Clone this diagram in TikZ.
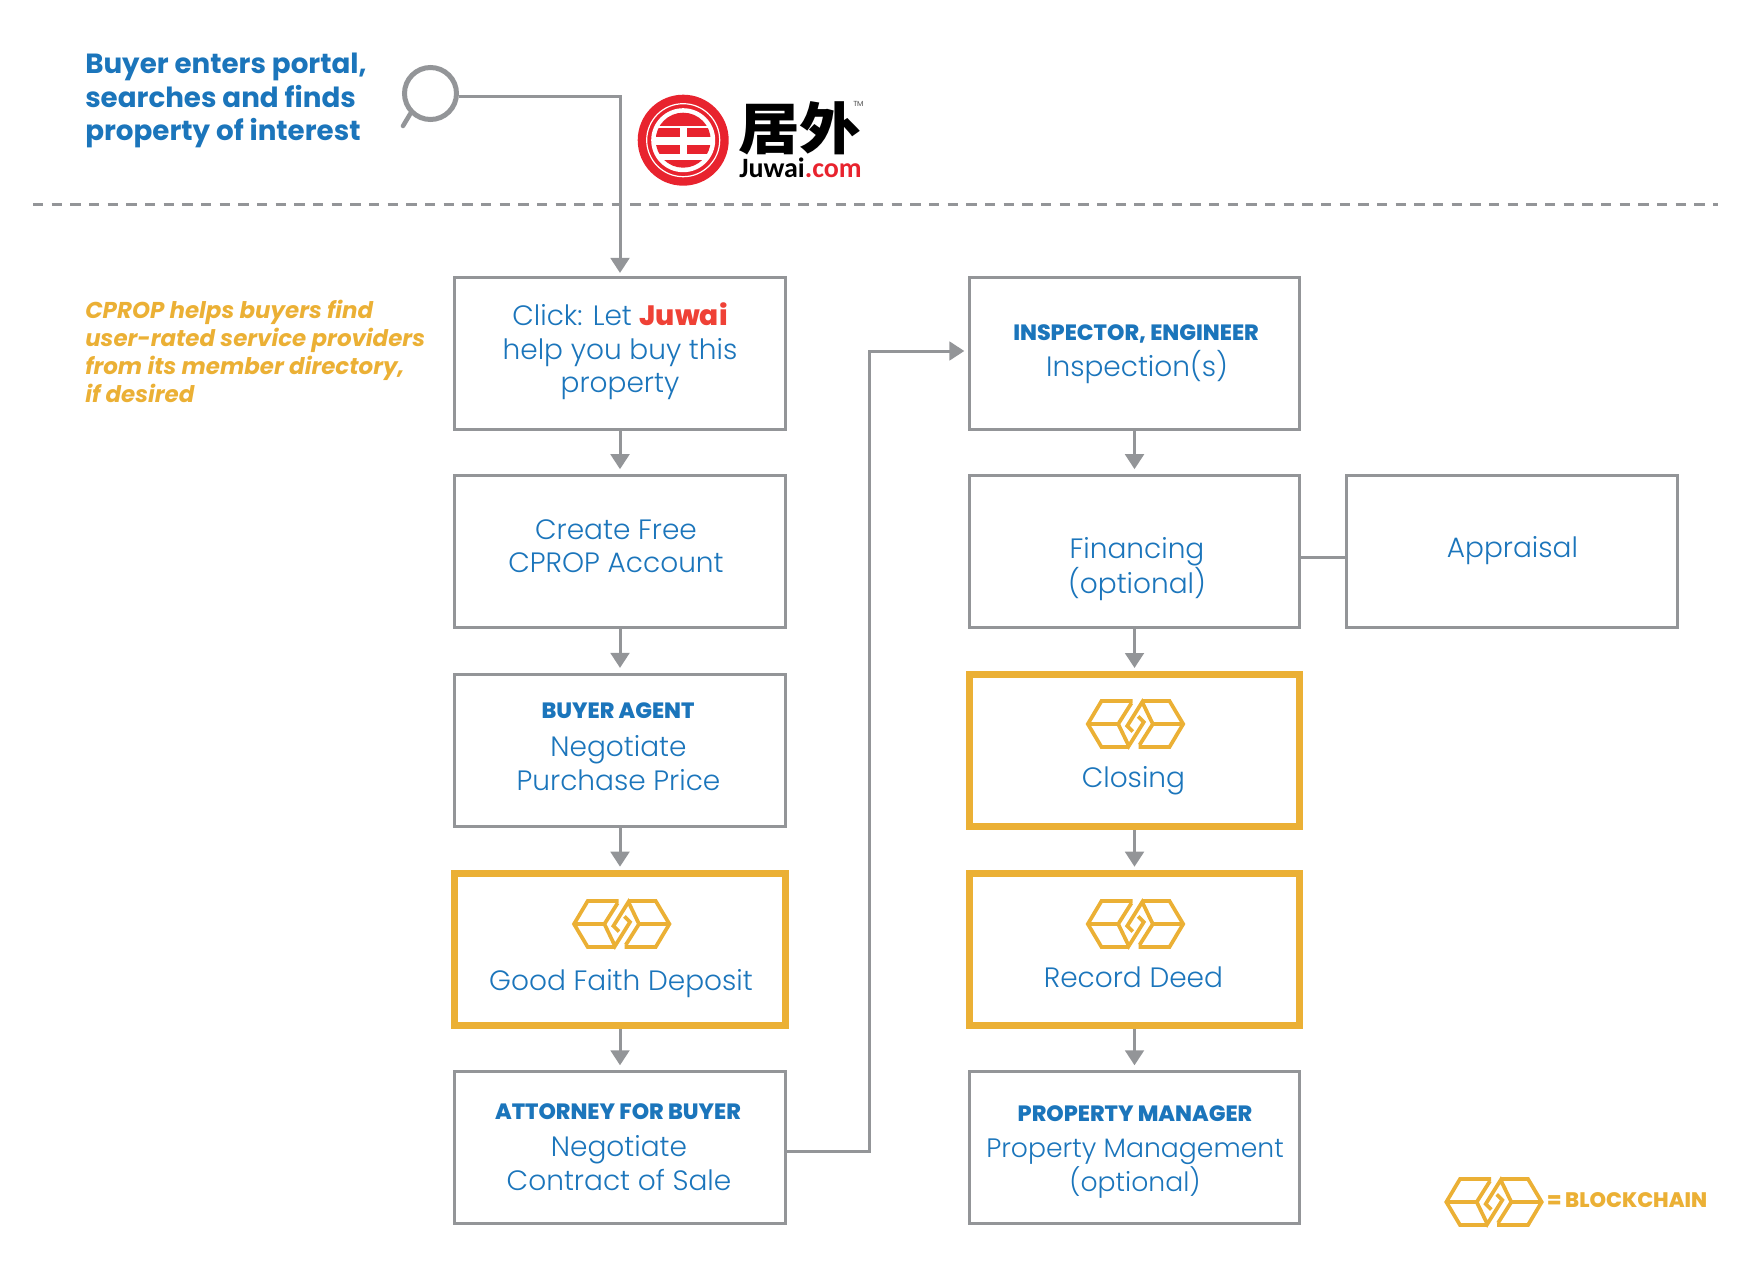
\documentclass[tikz,border=0pt]{standalone}
\usepackage{fontspec}
\usetikzlibrary{arrows.meta,calc}
\setmainfont{Poppins}
\newfontfamily\lightf{Poppins Light}
\newfontfamily\heavyf{Poppins ExtraBold}
\newfontfamily\cjkf{Noto Sans CJK SC Black}[FakeStretch=1.1]
\newfontfamily\arialf{Carlito}
\definecolor{cblue}{HTML}{1B75BB}
\definecolor{cgold}{HTML}{EBB035}
\definecolor{cgray}{HTML}{939598}
\definecolor{cred}{HTML}{EF4136}
\definecolor{lred}{HTML}{E8232E}
\tikzset{
  boxn/.style={draw=cgray,line width=2.25pt,minimum width=248pt,minimum height=114pt,inner sep=0pt},
  goldn/.style={draw=cgold,line width=5.4pt,minimum width=248pt,minimum height=114pt,inner sep=0pt},
  body/.style={text=cblue,align=center,font=\lightf\fontsize{21}{25.2}\selectfont,inner sep=0pt},
  head/.style={text=cblue,align=center,font=\heavyf\fontsize{16.6}{18}\selectfont,inner sep=0pt},
  conn/.style={draw=cgray,line width=2.25pt},
  arr/.style={conn,-{Triangle[width=14pt,length=11.25pt]},shorten >=3.75pt},
  arrg/.style={arr,shorten >=2.25pt},
  arrt/.style={arr,shorten >=1.9pt},
  chainicon/.pic={
    \begin{scope}[draw=cgold,line width=2.8pt,line join=miter]
      \foreach \r in {0,180}{
        \begin{scope}[rotate=\r]
          \draw (-3,-23) -- (-34,-23) -- (-47.7,0) -- (-34,23) -- (-6.7,23);
          \draw (-4,-21) -- (-17.3,0) -- (-6.7,22) -- (8.3,-2) -- (2.7,-7.5);
          \draw (-47.7,0) -- (-17.3,0);
        \end{scope}
      }
    \end{scope}
  }
}
\begin{document}
\begin{tikzpicture}[x=0.75pt,y=-0.75pt]
\useasboundingbox (0,0) rectangle (1762,1280);
% boxes
\node[boxn] (b1) at (620,353) {};
\node[boxn] (b2) at (620,551.7) {};
\node[boxn] (b3) at (620,750.4) {};
\node[goldn] (b4) at (620,949.3) {};
\node[boxn] (b5) at (620,1147.8) {};
\node[boxn] (r1) at (1134.5,353) {};
\node[boxn] (r2) at (1134.5,551.7) {};
\node[boxn] (ap) at (1512,551.7) {};
\node[goldn] (r3) at (1134.5,750.6) {};
\node[goldn] (r4) at (1134.5,949.3) {};
\node[boxn] (r5) at (1134.5,1147.8) {};
% dashed rule
\coordinate (dl) at (33,204.3);
\coordinate (dr) at (1718,204.3);
\draw[cgray,line width=2.25pt,dash pattern=on 7.75pt off 6.25pt] (dl) -- (dr);
% magnifier
\node[draw=cgray,circle,line width=3.75pt,minimum size=39pt,inner sep=0pt] (mag) at (430.5,93.5) {};
\coordinate (hend) at (403,126);
\draw[cgray,line width=3.4pt,line cap=round] (mag.225) -- (hend);
% connectors
\draw[arrt] ([yshift=-2.2pt]mag.east) -| (b1.north);
\draw[arr] (b1) -- (b2);
\draw[arr] (b2) -- (b3);
\draw[arrg] (b3) -- (b4);
\draw[arr] (b4) -- (b5);
\draw[arr] (r1) -- (r2);
\draw[arrg] (r2) -- (r3);
\draw[arrg] (r3) -- (r4);
\draw[arr] (r4) -- (r5);
\coordinate (mid) at (869,0);
\coordinate (r1in) at ([yshift=1.5pt]r1.west);
\draw[arr,shorten >=2.5pt] ([yshift=-2.4pt]b5.east) -| (mid |- r1in) -- (r1in);
\draw[conn] ([yshift=-4pt]r2.east) -- ([yshift=-4pt]ap.west);
% texts
\node[text=cblue,anchor=north west,align=left,inner sep=0pt,font=\fontsize{20.8}{25.1}\bfseries\selectfont] (t1) at (85,53) {Buyer enters portal,\\searches and finds\\property of interest};
\node[text=cgold,anchor=north west,align=left,inner sep=0pt,font=\fontsize{17.2}{21}\bfseries\itshape\selectfont] (t2) at (85,299.5) {CPROP helps buyers find\\user-rated service providers\\from its member directory,\\if desired};
\node[body] (tb1) at (620,351.4) {Click: Let {\heavyf\color{cred}Juwai}\\help you buy this\\property};
\node[body] (tb2) at (616,546.3) {Create Free\\CPROP Account};
\node[head] (hb3) at (618,711) {BUYER AGENT};
\node[body] (tb3) at (618.5,763) {Negotiate\\Purchase Price};
\pic at (621.7,924) {chainicon};
\node[body] (tb4) at (621,983.6) {Good Faith Deposit};
\node[head] (hb5) at (618,1112) {ATTORNEY FOR BUYER};
\node[body] (tb5) at (619,1163.3) {Negotiate\\Contract of Sale};
\node[head] (hr1) at (1136,334.4) {INSPECTOR, ENGINEER};
\node[body] (tr1) at (1137,367) {Inspection(s)};
\node[body] (tr2) at (1137,569) {Financing\\(optional)};
\node[body] (tap) at (1512.4,550.6) {Appraisal};
\pic at (1135.5,724) {chainicon};
\node[body] (tr3) at (1133.4,780.6) {Closing};
\pic at (1135.5,924) {chainicon};
\node[body] (tr4) at (1133.4,977.3) {Record Deed};
\node[head] (hr5) at (1135,1113.4) {PROPERTY MANAGER};
\node[body,font=\lightf\fontsize{20}{25.2}\selectfont] (tr5) at (1135,1168.8) {Property Management\\(optional)};
% legend
\pic at (1494,1202) {chainicon};
\node[text=cgold,anchor=base west,inner sep=0pt,font=\heavyf\fontsize{15.75}{18}\selectfont] (leg) at (1547,1207) {= BLOCKCHAIN};
% logo
\begin{scope}[shift={(683.2,140.2)}]
  \fill[lred] (0,0) circle[radius=45.5];
  \draw[white,line width=0.9pt] (0,0) circle[radius=36.5];
  \fill[white] (0,0) circle[radius=32];
  \begin{scope}
    \clip (0,0) circle[radius=27.5];
    \fill[lred] (-30,-28) rectangle (30,-14.3);
    \fill[lred] (-30,-11.7) rectangle (30,-2.7);
    \fill[lred] (-30,5) rectangle (30,14);
    \fill[lred] (-30,20) rectangle (30,28);
    \fill[white] (-3.6,-12) rectangle (3.6,14);
  \end{scope}
\end{scope}
\node[anchor=base west,inner sep=0pt,font=\cjkf\fontsize{42}{42}\selectfont] (cj) at (738,149.5) {居外};
\node[anchor=base west,inner sep=0pt,text=black!70,font=\fontsize{5.5}{6}\selectfont] (tm) at (853,107) {TM};
\node[anchor=base west,inner sep=0pt,font=\arialf\bfseries\fontsize{21}{24}\selectfont] (jw) at (739,178) {Juwai{\color{lred}.com}};
\end{tikzpicture}
\end{document}
